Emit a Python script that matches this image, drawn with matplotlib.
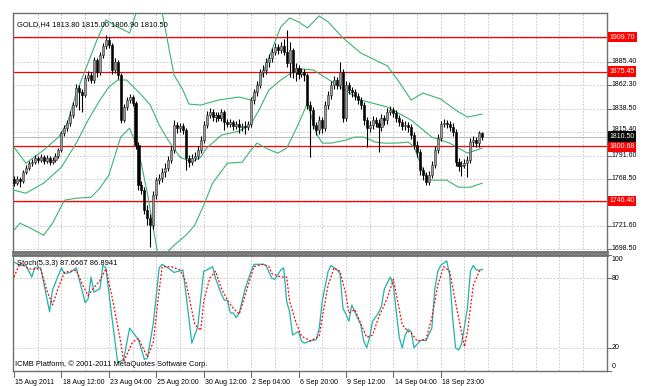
import matplotlib.pyplot as plt
from matplotlib.transforms import blended_transform_factory

# GOLD H4 candles, one per bar
opens = [1768, 1764, 1768, 1766, 1775, 1779, 1784, 1785, 1789, 1787, 1790, 1786, 1789, 1785, 1787, 1791,
         1797, 1814, 1819, 1824, 1832, 1842, 1859, 1855, 1852, 1869, 1872, 1867, 1887, 1875, 1892, 1901,
         1907, 1902, 1877, 1885, 1872, 1827, 1840, 1847, 1850, 1844, 1802, 1762, 1757, 1737, 1729, 1722,
         1752, 1767, 1769, 1775, 1779, 1787, 1797, 1822, 1819, 1821, 1817, 1789, 1785, 1789, 1791, 1797,
         1807, 1822, 1832, 1835, 1830, 1832, 1829, 1835, 1825, 1823, 1825, 1821, 1823, 1820, 1821, 1820,
         1823, 1847, 1855, 1862, 1875, 1877, 1885, 1889, 1895, 1900, 1897, 1901, 1895, 1884, 1897, 1875,
         1879, 1873, 1875, 1872, 1842, 1837, 1822, 1817, 1827, 1819, 1842, 1852, 1862, 1867, 1862, 1875,
         1829, 1862, 1857, 1855, 1851, 1847, 1842, 1827, 1819, 1822, 1827, 1824, 1820, 1829, 1827, 1835,
         1837, 1834, 1829, 1825, 1821, 1822, 1820, 1812, 1802, 1795, 1777, 1772, 1765, 1772, 1782, 1797,
         1809, 1823, 1824, 1823, 1820, 1815, 1785, 1781, 1782, 1784, 1787, 1805, 1807, 1804, 1813.8]
closes = [1764, 1768, 1766, 1775, 1779, 1784, 1785, 1789, 1787, 1790, 1786, 1789, 1785, 1787, 1791, 1797,
          1814, 1819, 1824, 1832, 1842, 1859, 1855, 1852, 1869, 1872, 1867, 1887, 1875, 1892, 1901, 1907,
          1902, 1877, 1885, 1872, 1827, 1840, 1847, 1850, 1844, 1802, 1762, 1757, 1737, 1729, 1722, 1752,
          1767, 1769, 1775, 1779, 1787, 1797, 1822, 1819, 1821, 1817, 1789, 1785, 1789, 1791, 1797, 1807,
          1822, 1832, 1835, 1830, 1832, 1829, 1835, 1825, 1823, 1825, 1821, 1823, 1820, 1821, 1820, 1823,
          1847, 1855, 1862, 1875, 1877, 1885, 1889, 1895, 1900, 1897, 1901, 1895, 1884, 1897, 1875, 1879,
          1873, 1875, 1872, 1842, 1837, 1822, 1817, 1827, 1819, 1842, 1852, 1862, 1867, 1862, 1875, 1829,
          1862, 1857, 1855, 1851, 1847, 1842, 1827, 1819, 1822, 1827, 1824, 1820, 1829, 1827, 1835, 1837,
          1834, 1829, 1825, 1821, 1822, 1820, 1812, 1802, 1795, 1777, 1772, 1765, 1772, 1782, 1797, 1809,
          1823, 1824, 1823, 1820, 1815, 1785, 1781, 1782, 1784, 1787, 1805, 1807, 1804, 1813.8, 1810.5]
highs = [1771, 1771, 1770, 1777, 1782, 1786, 1788, 1792, 1791, 1793, 1792, 1792, 1791, 1790, 1794, 1799,
         1816, 1822, 1827, 1836, 1845, 1863, 1862, 1858, 1872, 1876, 1875, 1890, 1889, 1895, 1904, 1912,
         1910, 1904, 1889, 1887, 1874, 1843, 1850, 1853, 1852, 1846, 1805, 1766, 1760, 1742, 1733, 1756,
         1770, 1773, 1779, 1784, 1791, 1801, 1827, 1825, 1824, 1824, 1819, 1792, 1793, 1795, 1801, 1811,
         1826, 1836, 1839, 1838, 1835, 1835, 1838, 1837, 1828, 1828, 1827, 1826, 1828, 1824, 1826, 1826,
         1850, 1858, 1866, 1878, 1882, 1889, 1893, 1899, 1904, 1903, 1905, 1908, 1917, 1905, 1899, 1884,
         1882, 1879, 1878, 1874, 1846, 1840, 1825, 1831, 1830, 1846, 1856, 1866, 1871, 1870, 1885, 1878,
         1866, 1865, 1860, 1858, 1854, 1850, 1845, 1830, 1826, 1831, 1830, 1828, 1833, 1832, 1839, 1841,
         1840, 1837, 1832, 1828, 1826, 1825, 1823, 1815, 1806, 1798, 1780, 1775, 1776, 1786, 1801, 1813,
         1826, 1828, 1827, 1826, 1824, 1818, 1789, 1786, 1788, 1791, 1809, 1811, 1810, 1816, 1815.0]
lows = [1761, 1762, 1760, 1764, 1773, 1777, 1781, 1783, 1784, 1785, 1783, 1784, 1782, 1783, 1785, 1789,
        1795, 1811, 1816, 1821, 1829, 1840, 1837, 1835, 1850, 1866, 1864, 1864, 1870, 1872, 1889, 1898,
        1899, 1873, 1874, 1868, 1824, 1825, 1837, 1844, 1841, 1798, 1757, 1753, 1733, 1722, 1700, 1718,
        1748, 1763, 1765, 1770, 1776, 1784, 1794, 1814, 1815, 1813, 1777, 1780, 1782, 1786, 1788, 1794,
        1804, 1819, 1829, 1826, 1825, 1826, 1826, 1817, 1820, 1820, 1817, 1818, 1814, 1816, 1813, 1817,
        1820, 1843, 1851, 1859, 1870, 1873, 1880, 1885, 1892, 1893, 1894, 1892, 1880, 1870, 1869, 1866,
        1868, 1870, 1866, 1838, 1790, 1818, 1812, 1813, 1814, 1816, 1838, 1848, 1858, 1858, 1858, 1825,
        1826, 1853, 1850, 1847, 1843, 1838, 1822, 1800, 1815, 1818, 1820, 1795, 1816, 1822, 1823, 1832,
        1830, 1825, 1821, 1817, 1817, 1815, 1808, 1798, 1790, 1772, 1767, 1762, 1762, 1769, 1779, 1794,
        1806, 1820, 1819, 1816, 1811, 1781, 1776, 1771, 1779, 1770, 1784, 1801, 1800, 1800, 1806.9]

# Bollinger bands, read at sample bars
bb_up_bar = [0, 4, 10, 15, 18, 21, 25, 28, 31, 35, 39, 41, 44, 47, 49, 50, 54, 57, 59, 63, 69, 76,
             80, 82, 84, 87, 90, 93, 96, 99, 103, 106, 111, 117, 126, 130, 134, 138, 144, 149, 153, 158]
bb_up = [1800, 1784, 1797, 1810, 1824, 1854, 1884, 1907, 1927, 1920, 1914, 1932, 1950, 1952, 1947, 1934,
         1872, 1857, 1843, 1842, 1847, 1850, 1847, 1857, 1874, 1897, 1920, 1929, 1925, 1919, 1931, 1925,
         1909, 1894, 1881, 1865, 1847, 1854, 1848, 1837, 1830, 1833]
bb_mid_bar = [0, 4, 10, 16, 21, 25, 29, 32, 35, 38, 43, 46, 49, 52, 56, 60, 63, 65, 70, 76, 80, 83,
              86, 90, 93, 97, 101, 108, 117, 126, 134, 141, 147, 153, 158]
bb_mid = [1757, 1754, 1764, 1780, 1804, 1827, 1847, 1860, 1867, 1867, 1852, 1842, 1822, 1807, 1790, 1785,
          1790, 1799, 1812, 1816, 1823, 1839, 1857, 1867, 1873, 1878, 1877, 1864, 1847, 1840, 1827, 1810,
          1804, 1794, 1799]
bb_low_bar = [0, 2, 5, 10, 13, 17, 21, 26, 29, 32, 36, 39, 42, 45, 48, 49, 50, 54, 58, 61, 64, 67,
              72, 77, 80, 82, 85, 89, 92, 95, 97, 99, 102, 104, 107, 112, 115, 118, 122, 125, 129,
              133, 135, 138, 140, 146, 150, 154, 158]
bb_low = [1717, 1724, 1720, 1712, 1724, 1747, 1749, 1750, 1759, 1772, 1810, 1819, 1797, 1754, 1702,
          1685, 1690, 1702, 1712, 1722, 1742, 1764, 1784, 1785, 1797, 1804, 1799, 1794, 1799, 1817,
          1830, 1844, 1814, 1804, 1804, 1807, 1810, 1810, 1805, 1804, 1804, 1805, 1800, 1777, 1767,
          1767, 1760, 1760, 1764]

# Stochastic (5,3,3): main line and signal line, read at sample bars
st_main_bar = [0, 2, 4, 6, 7, 9, 12, 13, 16, 17, 19, 21, 24, 25, 26, 27, 29, 30, 31, 33, 35, 37, 39,
               42, 44, 45, 47, 49, 50, 53, 54, 57, 58, 60, 62,
               64, 65, 67, 68, 70, 71, 72, 73, 74, 75, 76, 78, 80, 81, 84, 85, 87, 88, 89, 90,
               91, 92, 93, 94, 96, 97, 98, 100, 102, 103, 104, 106, 107, 109, 110, 111, 112, 113, 114, 115,
               117, 118, 119, 120, 121, 123, 124, 125, 127, 128, 129, 130, 131, 132, 133, 134, 135, 137, 138,
               139, 141, 142, 143, 144, 146, 147, 148, 149, 150, 151, 153, 154, 155, 156, 157, 158]
st_main = [94, 91, 91, 81, 89, 89, 51, 70, 89, 84, 85, 89, 59, 62, 81, 68, 71, 91, 89, 47, 7, 10, 37,
           27, 10, 11, 41, 89, 92, 87, 85, 87, 67, 24, 38,
           86, 87, 90, 80, 66, 61, 61, 50, 50, 46, 50, 71, 86, 92, 92, 91, 80, 79, 83, 87,
           89, 60, 51, 31, 34, 26, 24, 26, 27, 37, 60, 86, 91, 87, 84, 54, 49, 43, 57, 51,
           40, 26, 20, 29, 43, 50, 56, 71, 81, 74, 51, 29, 20, 31, 36, 34, 20, 26, 27,
           26, 37, 71, 86, 91, 95, 83, 46, 20, 18, 23, 54, 86, 91, 87, 87, 87.67]
st_sig_bar = [0, 2, 5, 9, 11, 13, 15, 17, 21, 23, 25, 27, 29, 31, 33, 36, 37, 40, 42, 45, 47, 49, 50,
              53, 56, 58, 61, 63,
              64, 66, 68, 70, 72, 74, 76, 77, 79, 81, 84, 86, 87, 90, 92, 93, 95, 97, 100, 103,
              104, 106, 108, 110, 112, 113, 115, 117, 119, 121, 123, 126, 128, 129, 131, 133, 134, 136, 139,
              141, 143, 145, 147, 150, 152, 153, 155, 157, 158]
st_sig = [81, 93, 88, 88, 70, 57, 72, 85, 87, 75, 65, 72, 78, 88, 65, 25, 8, 25, 28, 12, 25, 70, 90,
          90, 87, 77, 40, 35,
          60, 80, 86, 71, 61, 54, 49, 57, 74, 90, 92, 90, 84, 81, 81, 60, 43, 30, 26, 30,
          46, 74, 89, 86, 66, 50, 53, 41, 29, 31, 46, 63, 79, 66, 40, 34, 33, 26, 27,
          46, 74, 90, 86, 46, 21, 34, 74, 86, 86.89]

red_levels = [1909.70, 1875.45, 1800.68, 1746.40]
price_ticks = [1885.40, 1862.30, 1838.50, 1815.40, 1791.60, 1768.50, 1721.60, 1698.50]
grid_only = [1908.50, 1745.00]
last_price = 1810.50
time_ticks = [0, 16, 32, 48, 64, 80, 96, 112, 128, 144]
time_labels = ['15 Aug 2011', '18 Aug 12:00', '23 Aug 04:00', '25 Aug 20:00', '30 Aug 12:00',
               '2 Sep 04:00', '6 Sep 20:00', '9 Sep 12:00', '14 Sep 04:00', '18 Sep 23:00']

plt.rcParams['font.family'] = ['Liberation Sans', 'DejaVu Sans']
FS = 5.0
W, H = 645, 386
fig = plt.figure(figsize=(W / 100, H / 100), dpi=100)
fig.patch.set_facecolor('white')


def box(l, t, r, b):
    return [l / W, 1 - b / H, (r - l) / W, (b - t) / H]


ax = fig.add_axes(box(13, 13, 607, 252))
ax2 = fig.add_axes(box(13, 255, 607, 371))
xmin, xmax = -0.34, 200.1
grid_x = list(range(8, 200, 8))

for a in (ax, ax2):
    a.set_xlim(xmin, xmax)
    for s in a.spines.values():
        s.set_color('#707070')
        s.set_linewidth(1)
    a.tick_params(left=False, labelleft=False, bottom=False, labelbottom=False,
                  right=False, labelright=False)
    for gx in grid_x:
        a.axvline(gx, color='#c0c0c0', lw=0.6, ls=(0, (2, 2)), zorder=0)

ax.set_ylim(1695.3, 1933.9)
ax2.set_ylim(0, 100)
ax.spines['bottom'].set_linewidth(2)
ax2.spines['top'].set_linewidth(2)

for gy in price_ticks + grid_only:
    ax.axhline(gy, color='#c0c0c0', lw=0.6, ls=(0, (2, 2)), zorder=0)
for gy in (20, 80):
    ax2.axhline(gy, color='#c0c0c0', lw=0.6, ls=(0, (2, 2)), zorder=0)

# price line and horizontal levels
ax.axhline(last_price, color='#c0c0c0', lw=0.8, zorder=1)
for lv in red_levels:
    ax.axhline(lv, color='red', lw=0.9, zorder=2)

# Bollinger bands
for bx, by in ((bb_up_bar, bb_up), (bb_mid_bar, bb_mid), (bb_low_bar, bb_low)):
    ax.plot(bx, by, color='#3cb371', lw=0.8, zorder=3)

# candles
idx = list(range(len(closes)))
ax.vlines(idx, lows, highs, color='black', lw=0.8, zorder=4)
up = [i for i in idx if closes[i] >= opens[i]]
dn = [i for i in idx if closes[i] < opens[i]]
ax.bar(up, [closes[i] - opens[i] for i in up], bottom=[opens[i] for i in up], width=0.7,
       color='#9a9a9a', edgecolor='#303030', linewidth=0.4, zorder=5)
ax.bar(dn, [opens[i] - closes[i] for i in dn], bottom=[closes[i] for i in dn], width=0.7,
       color='black', edgecolor='black', linewidth=0.4, zorder=5)

# stochastic
ax2.plot(st_main_bar, st_main, color='#20b2aa', lw=0.9, zorder=3)
ax2.plot(st_sig_bar, st_sig, color='red', lw=0.9, ls=(0, (1.5, 1.5)), zorder=4)

# right-side scale
tr = blended_transform_factory(ax.transAxes, ax.transData)
for p in price_ticks:
    ax.plot([1.0, 1.006], [p, p], transform=tr, color='#707070', lw=0.8, clip_on=False)
    ax.text(1.008, p + (2.5 if p == 1815.40 else 0), f'{p:.2f}', transform=tr, fontsize=FS,
            va='center', ha='left', zorder=6)
for lv in red_levels:
    ax.text(1.004, lv, f'{lv:.2f}', transform=tr, fontsize=FS, va='center', ha='left', color='white',
            zorder=7, bbox=dict(boxstyle='square,pad=0.25', fc='red', ec='none'))
ax.text(1.004, last_price, f'{last_price:.2f}', transform=tr, fontsize=FS, va='center', ha='left',
        color='white', zorder=8, bbox=dict(boxstyle='square,pad=0.25', fc='black', ec='none'))

tr2 = blended_transform_factory(ax2.transAxes, ax2.transData)
for v, lab in ((100, '100'), (80, '80'), (20, '20'), (0, '0')):
    yv = min(max(v, 4), 96)
    ax2.plot([1.0, 1.006], [v, v], transform=tr2, color='#707070', lw=0.8, clip_on=False)
    ax2.text(1.008, yv, lab, transform=tr2, fontsize=FS, va='center', ha='left')

# time scale
trx = blended_transform_factory(ax2.transData, ax2.transAxes)
for t, lab in zip(time_ticks, time_labels):
    ax2.plot([t, t], [0, -0.05], transform=trx, color='#707070', lw=0.8, clip_on=False)
    ax2.text(t + 0.4, -0.07, lab, transform=trx, fontsize=FS, va='top', ha='left')

# panel texts
ax.text(0.007, 0.965, 'GOLD,H4 1813.80 1815.00 1806.90 1810.50', transform=ax.transAxes,
        fontsize=5.4, va='top', ha='left')
ax2.text(0.007, 0.96, 'Stoch(5,3,3) 87.6667 86.8941', transform=ax2.transAxes,
         fontsize=5.4, va='top', ha='left')
ax2.text(0.004, 0.03, 'ICMB Platform, \u00a9 2001-2011 MetaQuotes Software Corp.', transform=ax2.transAxes,
         fontsize=5.4, va='bottom', ha='left')

fig.savefig('out.png', dpi=100, facecolor='white')
